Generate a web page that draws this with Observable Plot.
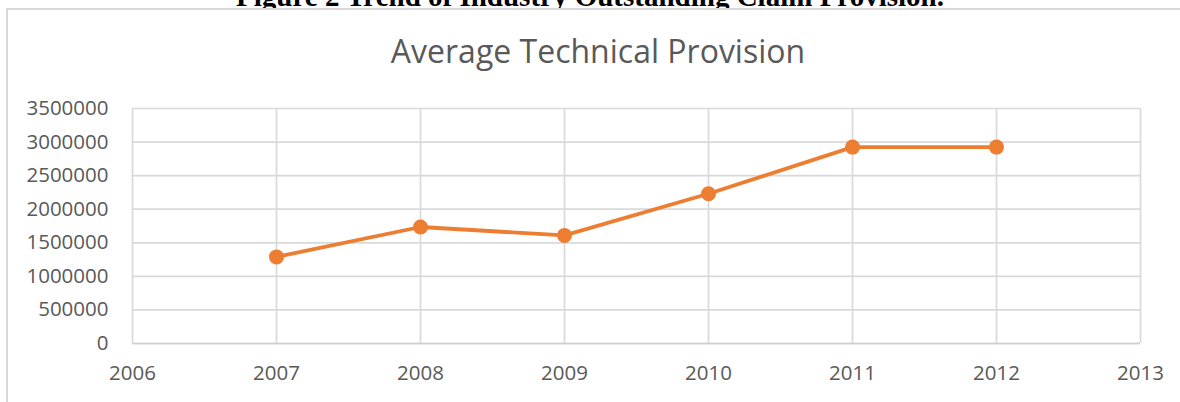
<!DOCTYPE html>
<html>
<head>
<meta charset="utf-8">
<script src="https://cdn.jsdelivr.net/npm/d3@7"></script>
<script src="https://cdn.jsdelivr.net/npm/@observablehq/plot@0.6"></script>
<style>
  html, body { margin: 0; padding: 0; width: 1180px; height: 402px; overflow: hidden; background: #fff; }
  #caption { position: absolute; top: -18px; left: 0; width: 1180px; text-align: center; font-family: "Liberation Serif", serif; font-weight: bold; font-size: 29px; line-height: 29px; color: #000; white-space: nowrap; z-index: 0; }
  #frame { position: absolute; left: 6px; top: 8px; width: 1200px; height: 420px; border: 2px solid #d9d9d9; box-sizing: border-box; background: #fff; z-index: 1; }
  #title { position: absolute; top: 29px; left: 0; width: 1196px; text-align: center; font-family: "Open Sans", sans-serif; font-size: 32px; line-height: normal; color: #595959; z-index: 2; }
  #chart { position: absolute; left: 0; top: 0; z-index: 2; }
</style>
</head>
<body>
<div id="caption">Figure 2 Trend of Industry Outstanding Claim Provision.</div>
<div id="frame"></div>
<div id="title">Average Technical Provision</div>
<div id="chart"></div>
<script>
const years = [2007, 2008, 2009, 2010, 2011, 2012];
const provision = [1290000, 1735000, 1610000, 2230000, 2925000, 2925000];
const xTicks = [2006, 2007, 2008, 2009, 2010, 2011, 2012, 2013];
const yTicks = [0, 500000, 1000000, 1500000, 2000000, 2500000, 3000000, 3500000];

const data = years.map((y, i) => ({year: y, value: provision[i]}));

const chart = Plot.plot({
  width: 1180,
  height: 402,
  marginLeft: 132,
  marginRight: 40,
  marginTop: 108,
  marginBottom: 59,
  style: {background: "transparent", fontFamily: "Open Sans, sans-serif", fontSize: "20.5px", color: "#595959", overflow: "visible"},
  x: {domain: [2006, 2013], ticks: xTicks, tickFormat: d => String(d), tickSize: 0, tickPadding: 22, label: null},
  y: {domain: [0, 3500000], ticks: yTicks, tickFormat: d => String(d), tickSize: 0, tickPadding: 24, label: null},
  marks: [
    Plot.gridX(xTicks, {stroke: "#d9d9d9", strokeOpacity: 1, strokeWidth: 1.7}),
    Plot.gridY(yTicks, {stroke: "#d9d9d9", strokeOpacity: 1, strokeWidth: 1.7}),
    Plot.ruleY([0], {stroke: "#cfcfcf", strokeWidth: 1.7}),
    Plot.line(data, {x: "year", y: "value", stroke: "#ED7D31", strokeWidth: 3.8}),
    Plot.dot(data, {x: "year", y: "value", fill: "#ED7D31", r: 7.5})
  ]
});
document.getElementById("chart").appendChild(chart);
</script>
</body>
</html>
